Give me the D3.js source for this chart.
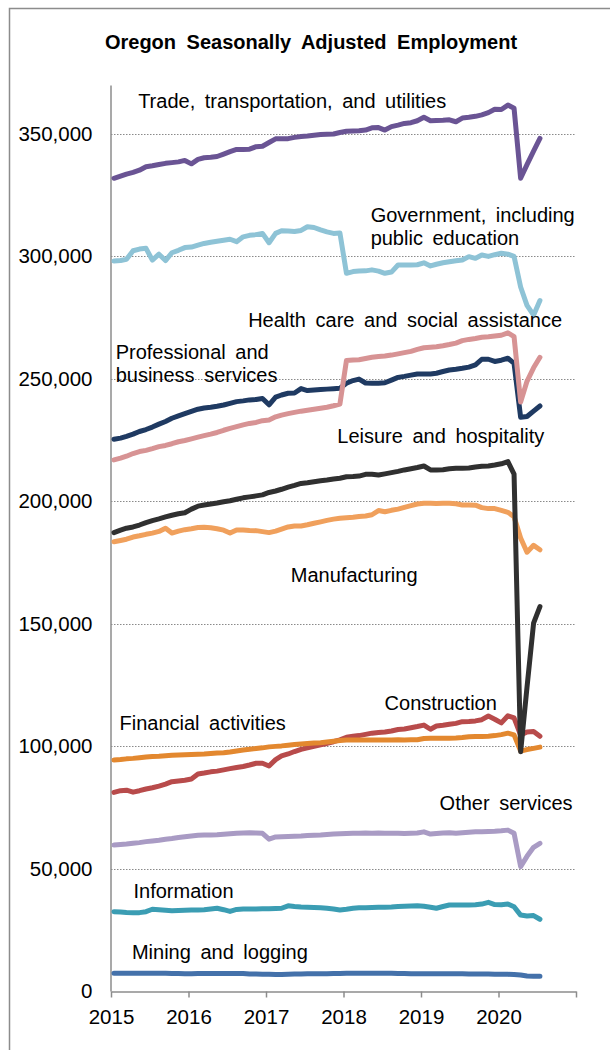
<!DOCTYPE html>
<html>
<head>
<meta charset="utf-8">
<script src="https://cdn.jsdelivr.net/npm/d3@7"></script>
<style>
  body { margin: 0; background: #fff; }
  svg { font-family: "Liberation Sans", Arial, sans-serif; }
</style>
</head>
<body>
<div id="chart"></div>
<script>
// monthly, Jan 2015 .. Jul 2020, thousands of jobs
var months = d3.timeMonth.range(new Date(2015, 0, 1), new Date(2020, 7, 1)).map(function (d) {
    return new Date(d.getFullYear(), d.getMonth(), 15);
});

var trade = [331.9, 332.8, 333.6, 334.3, 335.2, 336.6, 337.0, 337.5, 338.0, 338.3, 338.6, 339.2, 337.8, 339.6, 340.3, 340.5, 340.8, 341.8, 342.8, 343.7, 343.7, 343.8, 344.8, 345.0, 346.5, 348.0, 348.1, 348.1, 348.6, 349.0, 349.2, 349.5, 349.8, 349.9, 350.0, 350.6, 351.1, 351.2, 351.3, 351.6, 352.5, 352.6, 351.6, 353.0, 353.6, 354.3, 354.6, 355.4, 356.8, 355.4, 355.5, 355.6, 355.8, 355.0, 356.5, 356.8, 357.2, 357.8, 358.7, 360.1, 360.0, 361.8, 360.5, 331.9, 337.5, 343.0, 348.2];
var government = [298.1, 298.3, 298.8, 302.3, 303.0, 303.3, 298.5, 300.9, 298.3, 301.5, 302.5, 303.6, 303.8, 304.6, 305.3, 305.8, 306.2, 306.6, 307.0, 306.0, 308.0, 308.6, 308.9, 309.4, 305.6, 309.4, 310.5, 310.4, 310.2, 310.6, 312.1, 311.8, 310.8, 310.0, 309.4, 309.6, 293.1, 293.8, 294.0, 294.1, 294.5, 294.0, 293.1, 293.6, 296.5, 296.5, 296.5, 296.6, 297.4, 296.1, 296.8, 297.4, 297.8, 298.2, 298.5, 299.9, 299.2, 300.6, 300.0, 300.7, 301.3, 300.9, 300.0, 287.5, 280.0, 276.0, 282.0];
var health = [216.9, 217.6, 218.4, 219.5, 220.3, 220.8, 221.5, 222.3, 222.8, 223.5, 224.3, 224.8, 225.5, 226.2, 226.8, 227.4, 228.1, 229.0, 229.8, 230.5, 231.2, 231.8, 232.2, 232.9, 233.2, 234.5, 235.2, 235.8, 236.3, 236.8, 237.2, 237.6, 238.0, 238.4, 239.0, 239.7, 257.5, 257.7, 257.8, 258.3, 258.8, 259.1, 259.3, 259.7, 260.2, 260.7, 261.2, 262.0, 262.7, 262.9, 263.1, 263.5, 264.0, 264.6, 265.6, 266.1, 266.5, 267.0, 267.2, 267.5, 267.8, 268.8, 267.2, 240.5, 249.0, 254.5, 258.8];
var professional = [225.3, 225.8, 226.5, 227.4, 228.5, 229.3, 230.3, 231.5, 232.6, 233.9, 234.9, 235.8, 236.7, 237.6, 238.1, 238.4, 238.8, 239.3, 240.0, 240.7, 241.0, 241.4, 241.6, 242.0, 239.4, 242.5, 243.4, 244.1, 244.2, 246.0, 245.2, 245.4, 245.6, 245.8, 246.0, 246.2, 248.2, 249.3, 249.9, 248.3, 248.2, 248.2, 248.4, 249.5, 250.6, 251.0, 251.5, 252.0, 252.0, 252.0, 252.3, 253.0, 253.6, 253.9, 254.3, 254.8, 255.7, 258.0, 258.0, 257.1, 257.6, 258.4, 256.3, 234.3, 234.6, 236.8, 238.9];
var leisure = [187.2, 188.2, 189.0, 189.5, 190.3, 191.3, 192.1, 192.8, 193.6, 194.3, 194.9, 195.3, 196.8, 198.0, 198.5, 198.9, 199.3, 199.8, 200.2, 200.8, 201.4, 201.8, 202.2, 202.6, 203.6, 204.2, 204.9, 205.8, 206.5, 207.3, 207.6, 208.0, 208.4, 208.7, 209.1, 209.4, 210.0, 210.1, 210.3, 211.0, 211.0, 210.7, 211.2, 211.7, 212.2, 212.8, 213.3, 213.8, 214.4, 212.8, 212.8, 212.9, 213.3, 213.5, 213.5, 213.6, 214.0, 214.3, 214.4, 214.8, 215.3, 216.2, 211.1, 97.7, 124.0, 150.2, 157.0];
var manufacturing = [183.5, 184.0, 184.5, 185.4, 185.9, 186.5, 187.0, 187.7, 189.0, 187.0, 187.8, 188.4, 188.8, 189.3, 189.4, 189.2, 188.8, 188.2, 187.0, 188.3, 188.3, 188.1, 188.0, 187.6, 187.2, 187.8, 188.6, 189.5, 189.9, 189.9, 190.4, 191.0, 191.6, 192.2, 192.7, 193.1, 193.3, 193.5, 193.8, 194.0, 194.5, 196.2, 195.7, 196.3, 196.8, 197.5, 198.2, 198.9, 199.2, 199.2, 199.1, 199.2, 199.2, 199.0, 198.5, 198.5, 198.4, 197.4, 197.0, 197.0, 196.3, 195.5, 193.7, 185.0, 179.2, 182.0, 180.2];
var financial = [94.3, 94.5, 94.8, 95.0, 95.3, 95.6, 95.8, 95.9, 96.1, 96.3, 96.4, 96.5, 96.6, 96.7, 96.8, 97.0, 97.2, 97.3, 97.6, 98.0, 98.4, 98.7, 99.0, 99.3, 99.7, 99.9, 100.1, 100.4, 100.7, 100.9, 101.1, 101.3, 101.4, 101.7, 102.0, 102.3, 102.5, 102.5, 102.5, 102.5, 102.5, 102.5, 102.5, 102.5, 102.6, 102.5, 102.6, 102.6, 103.1, 103.2, 103.2, 103.2, 103.2, 103.3, 103.5, 103.8, 103.9, 103.9, 104.0, 104.3, 104.7, 105.3, 104.6, 98.0, 98.6, 99.1, 99.6];
var construction = [81.1, 81.8, 82.0, 81.2, 81.8, 82.5, 83.0, 83.7, 84.5, 85.5, 85.8, 86.1, 86.6, 88.6, 89.0, 89.5, 89.8, 90.3, 90.8, 91.3, 91.7, 92.3, 93.0, 93.0, 91.9, 94.5, 96.0, 96.8, 97.8, 98.7, 99.3, 99.9, 100.5, 101.1, 101.8, 102.6, 103.6, 104.0, 104.3, 104.8, 105.3, 105.6, 105.8, 106.2, 106.8, 107.0, 107.5, 108.0, 108.6, 106.9, 108.2, 108.5, 108.9, 109.3, 110.0, 110.1, 110.3, 110.8, 112.3, 111.0, 109.5, 112.4, 111.5, 104.5, 105.8, 106.0, 104.0];
var otherServices = [59.6, 59.8, 60.0, 60.3, 60.6, 61.0, 61.3, 61.6, 62.0, 62.3, 62.7, 63.0, 63.3, 63.6, 63.7, 63.7, 63.8, 64.0, 64.2, 64.4, 64.5, 64.6, 64.5, 64.4, 62.0, 62.9, 63.0, 63.1, 63.2, 63.3, 63.5, 63.6, 63.7, 63.9, 64.1, 64.2, 64.3, 64.4, 64.4, 64.5, 64.4, 64.5, 64.4, 64.4, 64.4, 64.3, 64.4, 64.5, 65.0, 64.1, 64.3, 64.5, 64.6, 64.4, 64.6, 64.8, 65.0, 65.0, 65.1, 65.2, 65.4, 65.7, 64.4, 50.8, 55.0, 58.7, 60.3];
var information = [32.4, 32.3, 32.1, 32.0, 32.0, 32.4, 33.4, 33.2, 33.0, 32.8, 32.9, 33.0, 33.1, 33.1, 33.2, 33.5, 33.8, 33.2, 32.5, 33.3, 33.5, 33.5, 33.5, 33.6, 33.6, 33.7, 33.8, 34.8, 34.5, 34.3, 34.2, 34.1, 34.0, 33.8, 33.5, 33.1, 33.4, 33.8, 34.0, 34.0, 34.1, 34.2, 34.2, 34.3, 34.5, 34.6, 34.7, 34.8, 34.6, 34.2, 33.8, 34.5, 35.1, 35.1, 35.1, 35.1, 35.2, 35.5, 36.2, 35.3, 35.2, 35.5, 34.4, 31.0, 30.6, 30.8, 29.3];
var mining = [7.2, 7.2, 7.2, 7.2, 7.2, 7.2, 7.2, 7.2, 7.2, 7.1, 7.1, 7.0, 7.0, 7.1, 7.1, 7.1, 7.1, 7.1, 7.1, 7.1, 7.1, 6.9, 6.9, 6.8, 6.8, 6.7, 6.7, 6.8, 6.9, 6.9, 7.0, 7.0, 7.0, 7.0, 7.1, 7.1, 7.2, 7.2, 7.2, 7.2, 7.2, 7.2, 7.2, 7.2, 7.1, 7.1, 7.0, 7.0, 7.0, 7.0, 7.0, 7.0, 7.0, 7.0, 7.0, 6.9, 6.9, 6.9, 6.9, 6.8, 6.8, 6.8, 6.7, 6.5, 6.1, 6.0, 6.0];

var yTicks = [0, 50, 100, 150, 200, 250, 300, 350];
var yearTicks = [2015, 2016, 2017, 2018, 2019, 2020, 2021];

// drawing order, back to front
var series = [
    {name: "mining", values: mining, color: "#4471aa"},
    {name: "information", values: information, color: "#3b9db3"},
    {name: "otherServices", values: otherServices, color: "#a99bc4"},
    {name: "construction", values: construction, color: "#b84b4b"},
    {name: "financial", values: financial, color: "#e3882f"},
    {name: "manufacturing", values: manufacturing, color: "#f0a05c"},
    {name: "professional", values: professional, color: "#1f3a62"},
    {name: "health", values: health, color: "#d79394"},
    {name: "government", values: government, color: "#8ec3d6"},
    {name: "trade", values: trade, color: "#6a5494"},
    {name: "leisure", values: leisure, color: "#303030"}
];

// label anchors: fractional year, value (thousands) at baseline
var labels = [
    {lines: ["Trade, transportation, and utilities"], year: 2015.35, value: 360.6},
    {lines: ["Government, including", "public education"], year: 2018.35, value: 314.1},
    {lines: ["Health care and social assistance"], year: 2016.77, value: 271.3},
    {lines: ["Professional and", "business services"], year: 2015.06, value: 258.1},
    {lines: ["Leisure and hospitality"], year: 2017.92, value: 223.9},
    {lines: ["Manufacturing"], year: 2017.32, value: 167.2},
    {lines: ["Construction"], year: 2018.53, value: 114.8},
    {lines: ["Financial activities"], year: 2015.11, value: 106.6},
    {lines: ["Other services"], year: 2019.24, value: 73.9},
    {lines: ["Information"], year: 2015.29, value: 38.1},
    {lines: ["Mining and logging"], year: 2015.27, value: 13.1}
];

var W = 610, H = 1050;
var svg = d3.select("#chart").append("svg").attr("width", W).attr("height", H);

// chart frame
svg.append("path").attr("d", "M9.5,1050 V8.5 H610")
    .attr("fill", "none").attr("stroke", "#8c8c8c").attr("stroke-width", 1.5);

svg.append("text").attr("x", 311).attr("y", 49).attr("text-anchor", "middle")
    .attr("font-size", 20).attr("font-weight", "bold").style("word-spacing", "5px")
    .text("Oregon Seasonally Adjusted Employment");

var x = d3.scaleTime().domain([new Date(2015, 0, 1), new Date(2021, 0, 1)]).range([111, 576]);
var xYear = d3.scaleLinear().domain([2015, 2021]).range(x.range());
var y = d3.scaleLinear().domain([0, 370]).range([991, 85]);

// gridlines
svg.append("g").selectAll("line").data(yTicks.slice(1)).join("line")
    .attr("x1", 111).attr("x2", 576)
    .attr("y1", function (d) { return Math.round(y(d)) + 0.5; })
    .attr("y2", function (d) { return Math.round(y(d)) + 0.5; })
    .attr("stroke", "#8a8a8a").attr("stroke-width", 1).attr("stroke-dasharray", "1.5,1.5");

// y axis
var yAxis = svg.append("g").attr("transform", "translate(110.5,0)")
    .call(d3.axisLeft(y).tickValues(yTicks).tickSize(0).tickPadding(18)
        .tickFormat(function (d) { return d3.format(",")(d * 1000); }));
yAxis.select(".domain").attr("stroke", "#8c8c8c").attr("stroke-width", 1.5);
yAxis.selectAll("text").attr("font-size", 20.5).attr("fill", "#000")
    .attr("font-family", "Liberation Sans, Arial, sans-serif");

// x axis
var xAxis = svg.append("g").attr("transform", "translate(0,991.5)")
    .call(d3.axisBottom(xYear).tickValues(yearTicks).tickSize(6).tickSizeOuter(0).tickPadding(12)
        .tickFormat(function (d) { return d === 2021 ? "" : d3.format("d")(d); }));
xAxis.select(".domain").attr("stroke", "#8c8c8c").attr("stroke-width", 1.5);
xAxis.selectAll(".tick line").attr("stroke", "#8c8c8c").attr("stroke-width", 1.5);
xAxis.selectAll("text").attr("font-size", 20.5).attr("fill", "#000")
    .attr("font-family", "Liberation Sans, Arial, sans-serif");

var line = d3.line()
    .x(function (d, i) { return x(months[i]); })
    .y(function (d) { return y(d); });

svg.append("g").selectAll("path").data(series).join("path")
    .attr("d", function (s) { return line(s.values); })
    .attr("fill", "none")
    .attr("stroke", function (s) { return s.color; })
    .attr("stroke-width", 5)
    .attr("stroke-linejoin", "round")
    .attr("stroke-linecap", "round");

// series labels
var lab = svg.append("g").attr("font-size", 20).attr("fill", "#000").style("word-spacing", "4px");
labels.forEach(function (l) {
    var t = lab.append("text").attr("x", xYear(l.year)).attr("y", y(l.value));
    l.lines.forEach(function (s, k) {
        t.append("tspan").attr("x", xYear(l.year)).attr("dy", k ? 23 : 0).text(s);
    });
});
</script>
</body>
</html>
